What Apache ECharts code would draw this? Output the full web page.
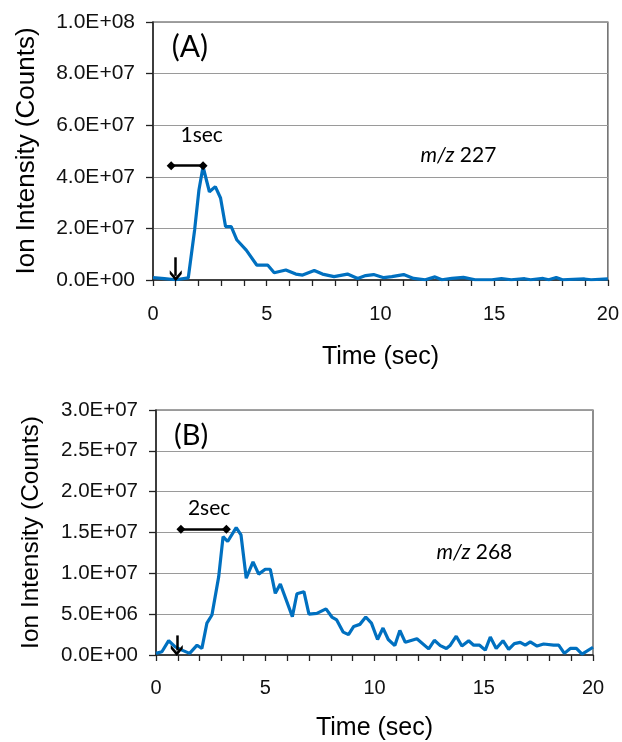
<!DOCTYPE html>
<html><head><meta charset="utf-8">
<script src="https://cdn.jsdelivr.net/npm/echarts@6/dist/echarts.min.js"></script>
<style>html,body{margin:0;padding:0;background:#fff}#c{width:622px;height:742px}</style>
</head><body><div id="c"></div>
<script>
// Panel A (m/z 227)
const timeA = [0,0.5,1.0,1.55,1.83,2.02,2.2,2.48,2.74,2.97,3.19,3.44,3.69,4.1,4.56,5.04,5.33,5.84,6.28,6.58,7.09,7.45,7.96,8.55,9.0,9.35,9.7,10.15,10.5,11.02,11.46,11.97,12.4,12.7,13.14,13.65,14.16,14.9,15.32,15.75,16.34,16.6,17.15,17.4,17.73,18.0,18.97,19.26,20];
const intensityA = [0.9e6,0.5e6,0.1e6,0.8e6,19.4e6,34.9e6,43.9e6,34.2e6,36.2e6,31.8e6,20.7e6,20.7e6,15.5e6,11.6e6,5.8e6,5.8e6,2.8e6,3.9e6,2.3e6,1.9e6,3.7e6,2.3e6,1.3e6,2.3e6,0.6e6,1.7e6,2.1e6,0.9e6,1.3e6,2.1e6,0.6e6,0.1e6,1.2e6,0.1e6,0.6e6,1.0e6,0.1e6,0.1e6,0.5e6,0.1e6,0.5e6,0.1e6,0.6e6,0.1e6,1.0e6,0.1e6,0.4e6,0.1e6,0.4e6];
// Panel B (m/z 268)
const timeB = [0,0.27,0.58,0.88,1.19,1.54,1.88,2.1,2.33,2.56,2.87,3.07,3.28,3.67,3.89,4.13,4.44,4.7,5.0,5.23,5.46,5.69,6.24,6.45,6.77,7.0,7.36,7.78,8.05,8.27,8.57,8.81,9.05,9.33,9.6,9.86,10.14,10.39,10.63,10.93,11.16,11.41,11.94,12.48,12.74,13.01,13.29,13.47,13.74,14.0,14.31,14.54,14.81,15.07,15.3,15.57,15.88,16.14,16.4,16.67,16.9,17.13,17.44,17.74,18.2,18.43,18.69,18.96,19.24,19.5,20];
const intensityB = [0.2e6,0.4e6,1.75e6,1.0e6,0.6e6,0.2e6,1.2e6,0.8e6,3.9e6,4.9e6,9.6e6,14.5e6,13.9e6,15.6e6,14.7e6,9.4e6,11.4e6,9.9e6,10.5e6,10.5e6,7.55e6,8.7e6,4.7e6,7.5e6,7.75e6,5.0e6,5.1e6,5.65e6,4.65e6,4.3e6,2.8e6,2.5e6,3.5e6,3.75e6,4.65e6,3.9e6,1.9e6,3.3e6,1.9e6,1.15e6,3.0e6,1.55e6,2.0e6,0.75e6,1.8e6,1.15e6,0.8e6,1.2e6,2.3e6,1.1e6,1.75e6,1.2e6,1.2e6,0.6e6,2.2e6,0.8e6,1.75e6,0.7e6,1.4e6,1.55e6,1.2e6,1.6e6,1.1e6,1.35e6,1.2e6,1.2e6,0.2e6,0.8e6,0.8e6,0.1e6,0.95e6];

const yMaxA = 1e8, yStepA = 2e7;
const yMaxB = 3e7, yStepB = 5e6;
const xMax = 20;
const labelsA = {panel:'(A)', width:'1sec', mz:'227'};
const labelsB = {panel:'(B)', width:'2sec', mz:'268'};
// annotation anchor points (data coords)
const annA = {panel:[1.62,9.0e7], width:[2.14,5.62e7], mz:[13.43,4.84e7], bar:[[0.8,4.43e7],[2.2,4.43e7]], arrow:[[1.0,8.8e6],[1.0,1.6e6]]};
const annB = {panel:[1.61,2.69e7], width:[2.43,1.80e7], mz:[14.57,1.26e7], bar:[[1.14,1.54e7],[3.22,1.54e7]], arrow:[[0.95,2.4e6],[0.95,0.55e6]]};

function sci(v){
  if (v === 0) return '0.0E+00';
  const e = Math.floor(Math.log10(v) + 1e-9);
  const m = v / Math.pow(10, e);
  return m.toFixed(1) + 'E+' + (e < 10 ? '0' + e : e);
}
const chevron = 'path://M5,0 L10,6 L10,9 L5,3.5 L0,9 L0,6 Z';
const annFont = 'Lato, "Open Sans", sans-serif';
const axFont = '"Liberation Sans", Arial, sans-serif';

function makeSeries(t, v, ann, lab, idx, panelSize){
  return {
    type:'line', xAxisIndex:idx, yAxisIndex:idx,
    data: t.map((x,i)=>[x, v[i]]),
    showSymbol:false, smooth:false,
    lineStyle:{color:'#0070C0', width:3.2},
    itemStyle:{color:'#0070C0'},
    z:3,
    markLine:{
      silent:true, animation:false,
      label:{show:false},
      lineStyle:{color:'#000', width:2.5, type:'solid'},
      data:[
        [{coord:ann.bar[0], symbol:'diamond', symbolSize:9}, {coord:ann.bar[1], symbol:'diamond', symbolSize:9}],
        [{coord:ann.arrow[0], symbol:'none'}, {coord:ann.arrow[1], symbol:chevron, symbolSize:[12,11]}]
      ]
    },
    markPoint:{
      silent:true, animation:false,
      symbol:'circle', symbolSize:1, itemStyle:{color:'rgba(0,0,0,0)'},
      label:{show:true, position:'inside', color:'#000', fontFamily:annFont},
      data:[
        {coord:ann.panel, label:{formatter:lab.panel, fontSize:panelSize}},
        {coord:ann.width, label:{formatter:lab.width, fontSize:21}},
        {coord:ann.mz, label:{formatter:'{i|m/z} ' + lab.mz, fontSize:21,
          rich:{i:{fontStyle:'italic', fontSize:21, fontFamily:annFont, color:'#000'}}}}
      ]
    }
  };
}

function xAxis(idx, gap, nameSize, lblSize, margin){
  return {
    type:'value', gridIndex:idx, min:0, max:xMax, interval:1,
    name:'Time (sec)', nameLocation:'middle', nameGap:gap,
    nameTextStyle:{fontSize:nameSize, color:'#000', fontFamily:axFont},
    axisLine:{show:true, lineStyle:{color:'#222', width:1.5}},
    axisTick:{show:true, length:6, inside:false, lineStyle:{color:'#222', width:1.3}},
    axisLabel:{margin:margin, fontSize:lblSize, color:'#111', fontFamily:axFont,
      formatter:(v)=> (v % 5 === 0 ? String(v) : '')},
    splitLine:{show:false}
  };
}
function yAxis(idx, max, step, gap, nameSize, lblSize){
  return {
    type:'value', gridIndex:idx, min:0, max:max, interval:step,
    name:'Ion Intensity (Counts)', nameLocation:'middle', nameGap:gap, nameRotate:90,
    nameTextStyle:{fontSize:nameSize, color:'#000', fontFamily:axFont},
    axisLine:{show:true, lineStyle:{color:'#222', width:1.5}},
    axisTick:{show:true, length:7, inside:false, lineStyle:{color:'#222', width:1.3}},
    axisLabel:{margin:18, fontSize:lblSize, color:'#111', fontFamily:axFont, formatter:sci},
    splitLine:{show:true, lineStyle:{color:'#9a9a9a', width:1.2}}
  };
}

const chart = echarts.init(document.getElementById('c'), null, {renderer:'canvas'});
chart.setOption({
  animation:false,
  backgroundColor:'#fff',
  grid:[
    {left:153, right:12, top:22, height:258, show:true, borderColor:'#444', borderWidth:1.2, backgroundColor:'transparent'},
    {left:156, right:29, top:410, height:245, show:true, borderColor:'#444', borderWidth:1.2, backgroundColor:'transparent'}
  ],
  xAxis:[xAxis(0, 65, 25, 20, 24), xAxis(1, 61, 25, 20, 23)],
  yAxis:[yAxis(0, yMaxA, yStepA, 113, 26, 21), yAxis(1, yMaxB, yStepB, 112, 24.5, 20.5)],
  series:[
    makeSeries(timeA, intensityA, annA, labelsA, 0, 30),
    makeSeries(timeB, intensityB, annB, labelsB, 1, 29)
  ]
});
</script></body></html>
